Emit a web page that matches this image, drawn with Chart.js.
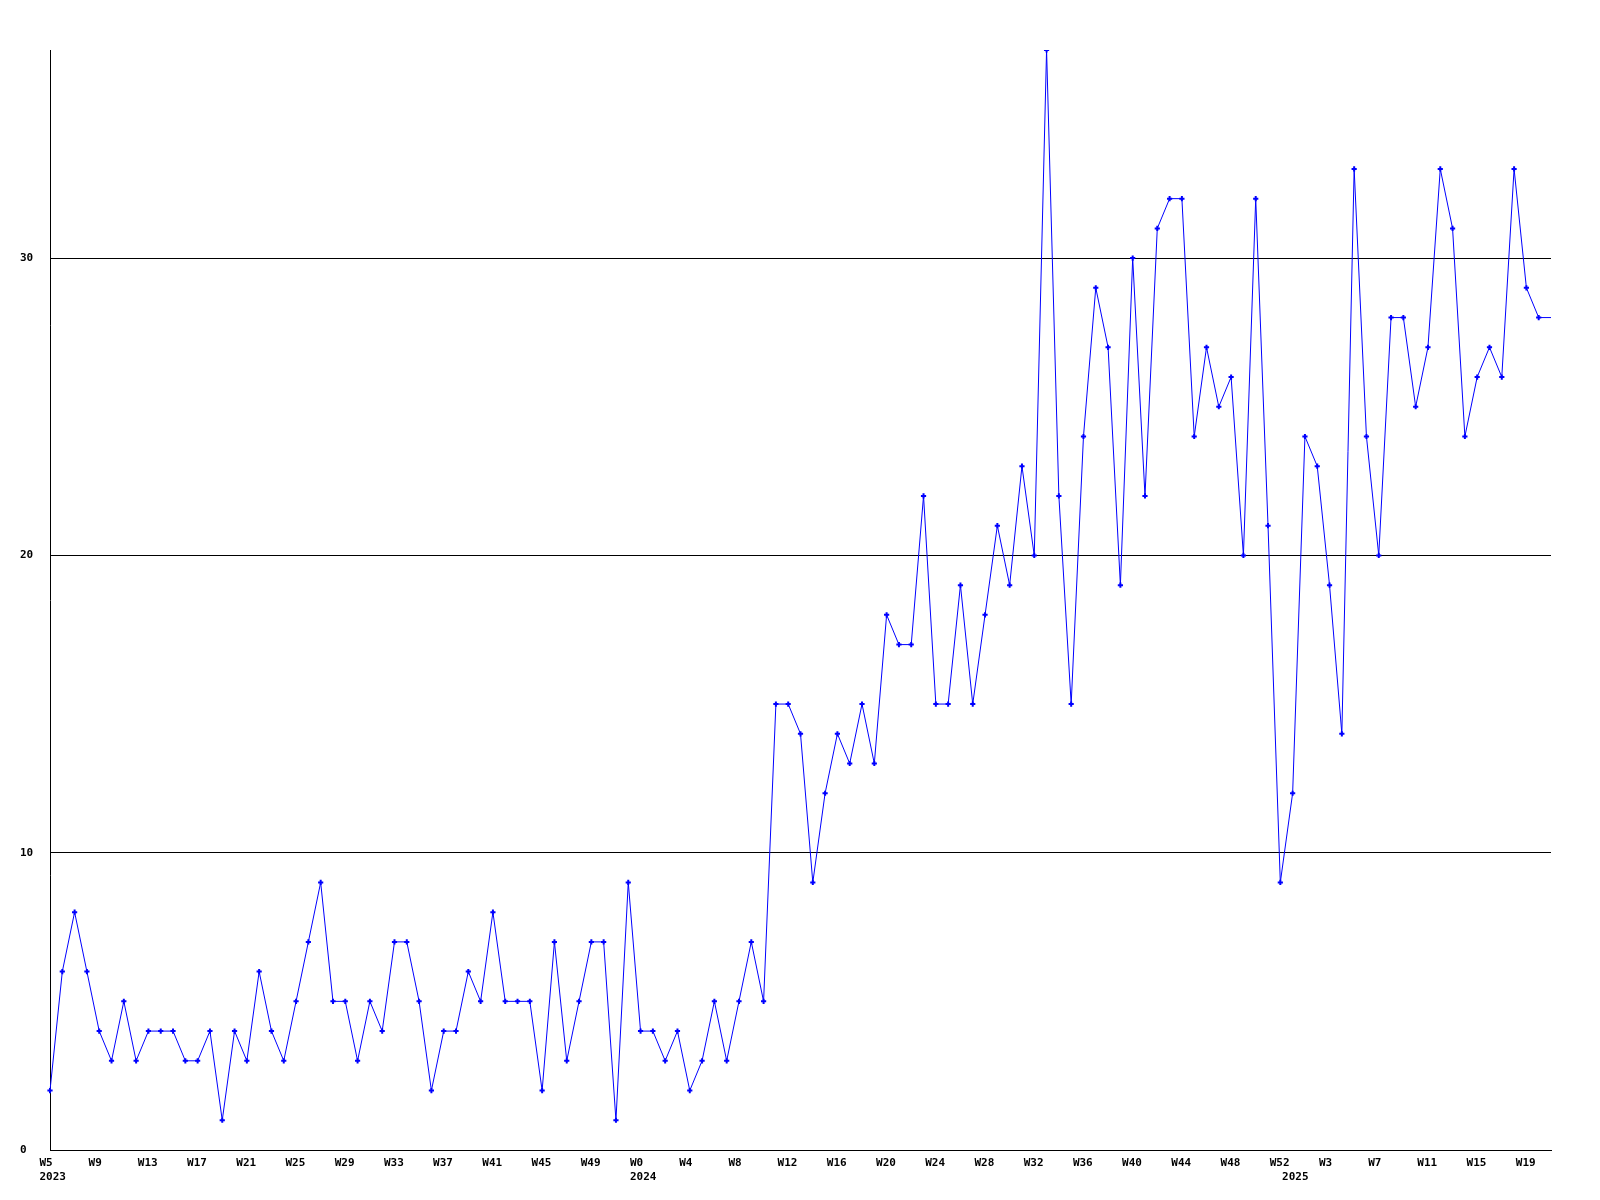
<!DOCTYPE html>
<html>
<head>
<meta charset="utf-8">
<style>
  html, body { margin: 0; padding: 0; background: #ffffff; }
  #wrap { width: 1600px; height: 1200px; }
</style>
<script src="https://cdn.jsdelivr.net/npm/chart.js@4.4.1/dist/chart.umd.min.js"></script>
</head>
<body>
<div id="wrap"><canvas id="c" width="1600" height="1200"></canvas></div>
<script>
// ---- data ----
const years = ["2023", "2024", "2025"];
const firstWeeks = [5, 0, 0];
const values2023 = [2,6,8,6,4,3,5,3,4,4,4,3,3,4,1,4,3,6,4,3,5,7,9,5,5,3,5,4,7,7,5,2,4,4,6,5,8,5,5,5,2,7,3,5,7,7,1,9];
const values2024 = [4,4,3,4,2,3,5,3,5,7,5,15,15,14,9,12,14,13,15,13,18,17,17,22,15,15,19,15,18,21,19,23,20,37,22,15,24,29,27,19,30,22,31,32,32,24,27,25,26,20,32,21,9];
const values2025 = [12,24,23,19,14,33,24,20,28,28,25,27,33,31,24,26,27,26,33,29,28,28];
const yTicks = [0, 10, 20, 30];
const yMax = 37;
const labelEvery = 4;

// build labels
const seriesByYear = [values2023, values2024, values2025];
const weekLabels = [];
const yearAt = {};
const values = [];
seriesByYear.forEach((arr, yi) => {
  yearAt[values.length] = years[yi];
  arr.forEach((v, k) => {
    weekLabels.push("W" + (firstWeeks[yi] + k));
    values.push(v);
  });
});

const FONT = { family: "'DejaVu Sans Mono', 'Liberation Mono', monospace", size: 11, weight: "bold", lineHeight: 14/11 };

new Chart(document.getElementById("c"), {
  type: "line",
  data: {
    labels: weekLabels,
    datasets: [{
      data: values,
      borderColor: "#0000ff",
      backgroundColor: "#0000ff",
      borderWidth: 1,
      tension: 0,
      fill: false,
      pointStyle: "cross",
      pointRadius: (ctx) => ctx.dataIndex === values.length - 1 ? 0 : 2.6,
      pointBorderWidth: 2,
      pointBorderColor: "#0000ff",
      pointHoverRadius: 0
    }]
  },
  options: {
    responsive: false,
    animation: false,
    events: [],
    layout: { padding: { top: 50, right: 49, left: 20, bottom: 0 } },
    plugins: { legend: { display: false }, tooltip: { enabled: false } },
    scales: {
      x: {
        type: "category",
        offset: false,
        grid: { display: false, drawTicks: false },
        border: { display: true, color: "#000000", width: 1 },
        ticks: {
          autoSkip: false,
          maxRotation: 0,
          minRotation: 0,
          align: "start",
          labelOffset: -10.6,
          padding: 6,
          color: "#000000",
          font: FONT,
          callback: function(value, index) {
            const showWeek = index % labelEvery === 0;
            const yr = yearAt[index];
            if (!showWeek && !yr) return null;
            const w = showWeek ? weekLabels[index] : "";
            return yr ? [w, yr] : w;
          }
        },
        afterFit: (s) => { s.height = 50; }
      },
      y: {
        min: 0,
        max: yMax,
        afterBuildTicks: (s) => { s.ticks = yTicks.map(v => ({ value: v })); },
        grid: { display: true, color: "#000000", lineWidth: 1, drawTicks: false },
        border: { display: true, color: "#000000", width: 1 },
        ticks: {
          crossAlign: "far",
          padding: 0,
          color: "#000000",
          font: FONT,
          callback: (v) => String(v)
        },
        afterFit: (s) => { s.width = 30; }
      }
    }
  }
});
</script>
</body>
</html>
